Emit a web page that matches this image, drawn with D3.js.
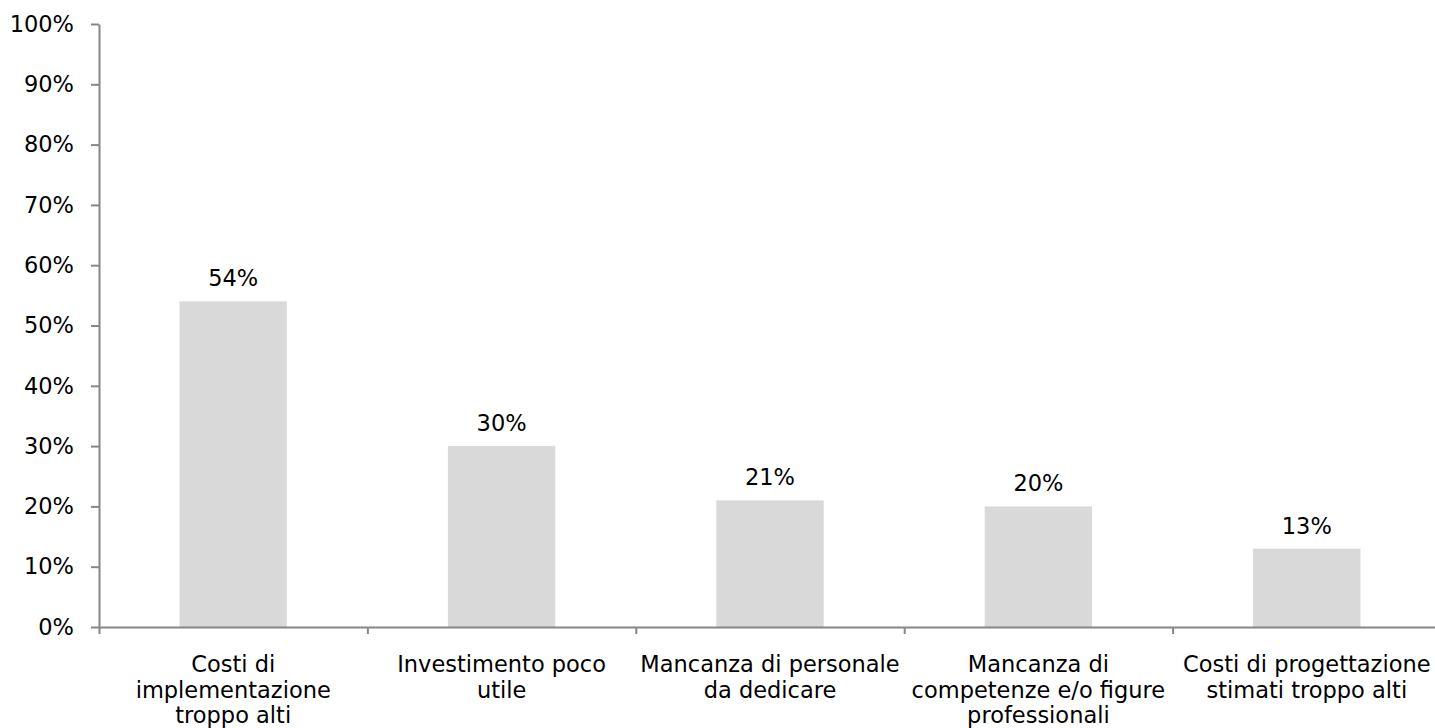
<!DOCTYPE html>
<html>
<head>
<meta charset="utf-8">
<script src="https://cdn.jsdelivr.net/npm/d3@7"></script>
<style>
  html, body { margin: 0; padding: 0; background: #fff; }
  svg { display: block; }
  text { font-family: "DejaVu Sans", Verdana, sans-serif; fill: #000; }
</style>
</head>
<body>
<svg id="chart" width="1435" height="728"></svg>
<script>
// Barriers to adoption, share of respondents
const categories = [
  "Costi di\nimplementazione\ntroppo alti",
  "Investimento poco\nutile",
  "Mancanza di personale\nda dedicare",
  "Mancanza di\ncompetenze e/o figure\nprofessionali",
  "Costi di progettazione\nstimati troppo alti"
];
const values = [54, 30, 21, 20, 13];
const yTicks = [0, 10, 20, 30, 40, 50, 60, 70, 80, 90, 100];

const svg = d3.select("#chart");
const plotLeft = 99, plotRight = 1441, plotTop = 24, plotBottom = 627;
const axisColor = "#868686";
const fontSize = 22.5;

const x = d3.scaleBand().domain(categories).range([plotLeft, plotRight]).paddingInner(0.6).paddingOuter(0.3);
const y = d3.scaleLinear().domain([0, 100]).range([plotBottom, plotTop]);

// Bars
svg.append("g").selectAll("rect")
  .data(values)
  .join("rect")
  .attr("x", (d, i) => x(categories[i]))
  .attr("y", d => y(d))
  .attr("width", x.bandwidth())
  .attr("height", d => y(0) - y(d))
  .attr("fill", "#d9d9d9");

// Value labels
svg.append("g").selectAll("text")
  .data(values)
  .join("text")
  .attr("x", (d, i) => x(categories[i]) + x.bandwidth() / 2)
  .attr("y", d => y(d) - 15)
  .attr("text-anchor", "middle")
  .style("font-size", fontSize + "px")
  .text(d => d + "%");

// Y axis
const yAxis = svg.append("g")
  .attr("transform", `translate(${plotLeft},0)`)
  .call(d3.axisLeft(y).tickValues(yTicks).tickFormat(d => d + "%").tickSize(8).tickSizeOuter(0).tickPadding(17));
yAxis.select(".domain").attr("stroke", axisColor).attr("stroke-width", 2);
yAxis.selectAll(".tick line").attr("stroke", axisColor).attr("stroke-width", 2);
yAxis.selectAll(".tick text").style("font-size", fontSize + "px").attr("fill", "#000")
  .style("font-family", "'DejaVu Sans', Verdana, sans-serif");

// X axis: line with ticks on band boundaries
const xb = d3.scaleLinear().domain([0, categories.length]).range([plotLeft, plotRight]);
const xAxis = svg.append("g")
  .attr("transform", `translate(0,${plotBottom})`)
  .call(d3.axisBottom(xb).tickValues(d3.range(categories.length + 1)).tickFormat("").tickSize(7).tickSizeOuter(0));
xAxis.select(".domain").attr("stroke", axisColor).attr("stroke-width", 2);
xAxis.selectAll(".tick line").attr("stroke", axisColor).attr("stroke-width", 2);

// Category labels
const lineH = 25.7;
const labels = svg.append("g").selectAll("text")
  .data(categories)
  .join("text")
  .attr("text-anchor", "middle")
  .style("font-size", fontSize + "px")
  .attr("transform", d => `translate(${x(d) + x.bandwidth() / 2},${plotBottom + 45})`);
labels.selectAll("tspan")
  .data(d => d.split("\n"))
  .join("tspan")
  .attr("x", 0)
  .attr("y", (d, i) => i * lineH)
  .text(d => d);
</script>
</body>
</html>
